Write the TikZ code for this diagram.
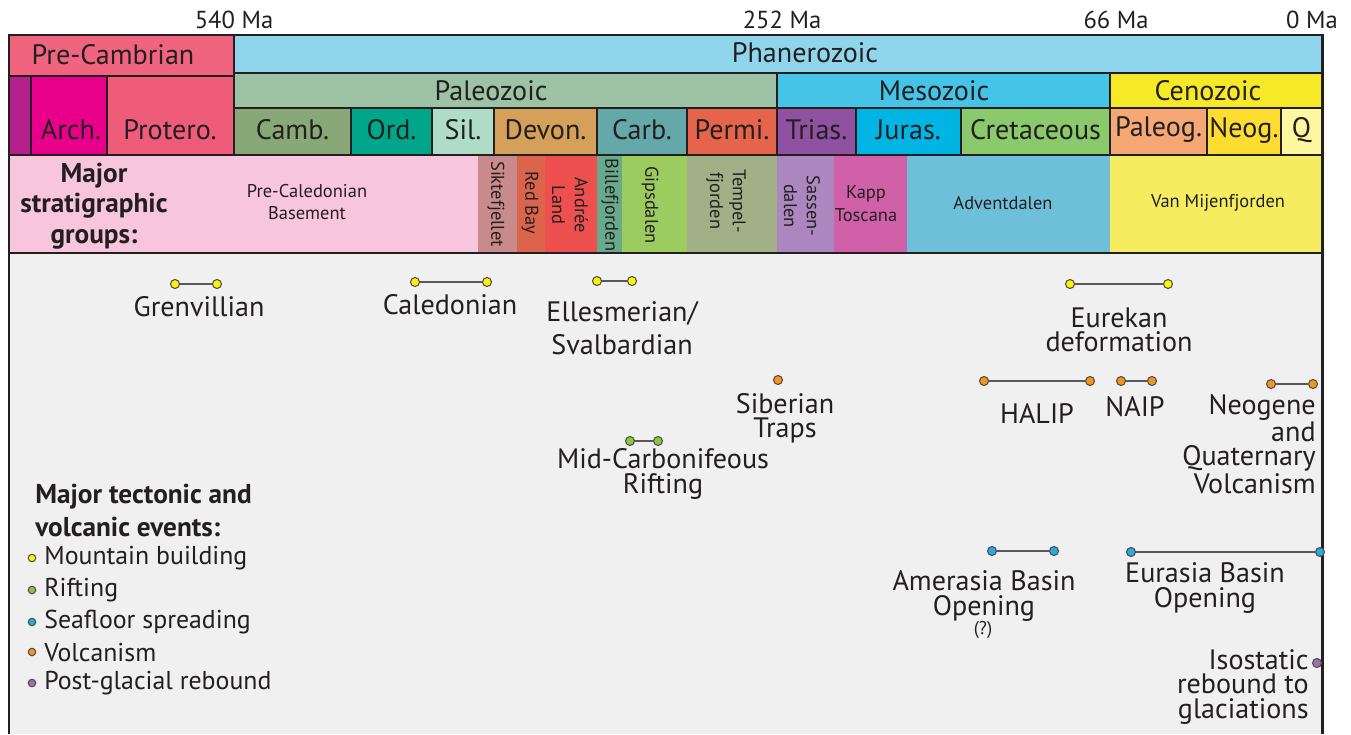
\documentclass[tikz,border=0pt]{standalone}
\usepackage{fontspec}
\setmainfont{PT Sans}
\usetikzlibrary{positioning}
\definecolor{ink}{RGB}{35,31,32}
\definecolor{panel}{RGB}{240,240,240}
\definecolor{precamb}{RGB}{240,100,128}
\definecolor{protero}{RGB}{238,92,122}
\definecolor{arch}{RGB}{232,0,138}
\definecolor{hadean}{RGB}{180,32,140}
\definecolor{phaner}{RGB}{143,214,236}
\definecolor{paleo}{RGB}{158,194,164}
\definecolor{meso}{RGB}{70,196,232}
\definecolor{ceno}{RGB}{246,234,40}
\definecolor{camb}{RGB}{137,168,119}
\definecolor{ord}{RGB}{0,166,137}
\definecolor{sil}{RGB}{176,221,200}
\definecolor{devon}{RGB}{212,160,90}
\definecolor{carb}{RGB}{100,168,170}
\definecolor{permi}{RGB}{230,100,75}
\definecolor{trias}{RGB}{142,82,160}
\definecolor{juras}{RGB}{0,180,228}
\definecolor{cret}{RGB}{138,201,108}
\definecolor{paleog}{RGB}{246,168,116}
\definecolor{neog}{RGB}{254,220,48}
\definecolor{quat}{RGB}{255,246,160}
\definecolor{basement}{RGB}{248,198,220}
\definecolor{sikte}{RGB}{200,138,138}
\definecolor{redbay}{RGB}{221,100,76}
\definecolor{andree}{RGB}{238,80,80}
\definecolor{bille}{RGB}{104,170,140}
\definecolor{gips}{RGB}{156,204,95}
\definecolor{tempel}{RGB}{162,176,136}
\definecolor{sassen}{RGB}{172,134,190}
\definecolor{kapp}{RGB}{208,96,168}
\definecolor{advent}{RGB}{110,192,218}
\definecolor{vanmij}{RGB}{246,236,96}
\definecolor{mtn}{RGB}{255,242,0}
\definecolor{rift}{RGB}{140,198,63}
\definecolor{sea}{RGB}{39,170,225}
\definecolor{volc}{RGB}{247,148,29}
\definecolor{post}{RGB}{155,115,176}
\tikzset{
  cell/.style={draw=ink,line width=1pt,fill=#1},
  frame/.style={draw=ink,line width=1.7pt},
  bar/.style={font=\fontsize{16}{18}\selectfont,text=ink,inner sep=0pt},
  age/.style={font=\fontsize{14}{16}\selectfont,text=ink,inner sep=0pt},
  grp/.style={font=\fontsize{10.5}{13}\selectfont,text=ink,align=center,inner sep=0pt},
  vgrp/.style={grp,rotate=-90},
  head/.style={font=\bfseries\fontsize{15.5}{17.5}\selectfont,text=ink,inner sep=0pt},
  evt/.style={font=\fontsize{16}{13.8}\selectfont,text=ink,align=center,inner sep=0pt},
  key/.style={font=\fontsize{14.7}{16}\selectfont,text=ink,inner sep=0pt,anchor=west},
  dot/.style={circle,draw=ink!80,line width=0.6pt,fill=#1,inner sep=0pt,minimum size=1.8mm},
  span/.style={draw=ink!75,line width=0.8pt},
}
\begin{document}
\begin{tikzpicture}[x=0.02cm,y=-0.02cm]
  \useasboundingbox (0,0) rectangle (1351,734);
  % ages
  \foreach \a/\x in {540/234,252/782,66/1116,0/1312}
    \node[age] (ma\a) at (\x,20) {\a~Ma};
  % events panel
  \fill[panel] (9,253) rectangle (1322,734);
  % eons and eras
  \draw[cell=precamb] (9,35) rectangle (234,76);
  \node[bar] (pcam) at (113,55) {Pre-Cambrian};
  \draw[cell=phaner] (234,35) rectangle (1322,73);
  \node[bar] (phan) at (805,53) {Phanerozoic};
  \foreach \a/\b/\t/\c/\x in {234/777/Paleozoic/paleo/491,777/1110/Mesozoic/meso/934,1110/1322/Cenozoic/ceno/1208}{
    \draw[cell=\c] (\a,73) rectangle (\b,108);
    \node[bar] (era\c) at (\x,91) {\t};
  }
  \draw[cell=hadean] (9,76) rectangle (31,155);
  \draw[cell=arch] (31,76) rectangle (107,155);
  \node[bar] (archt) at (71,130) {Arch.};
  \draw[cell=protero] (107,76) rectangle (234,155);
  \node[bar] (prot) at (170,130) {Protero.};
  % periods
  \foreach \a/\b/\t/\c [count=\i] in {234/351/Camb./camb,351/432/Ord./ord,432/494/Sil./sil,494/597/Devon./devon,597/687/Carb./carb,687/777/Permi./permi,777/856/Trias./trias,856/961/Juras./juras,961/1110/Cretaceous/cret,1110/1207/Paleog./paleog,1207/1281/Neog./neog,1281/1322/Q/quat}{
    \draw[cell=\c] (\a,108) rectangle (\b,155);
    \node[bar] (per\i) at ({(\a+\b)/2},130) {\t};
  }
  % stratigraphic groups
  \foreach \a/\b/\c in {9/478/basement,478/517/sikte,517/545/redbay,545/597/andree,597/622/bille,622/687/gips,687/777/tempel,777/834/sassen,834/907/kapp,907/1110/advent,1110/1322/vanmij}
    \fill[\c] (\a,155) rectangle (\b,253);
  \node[head,align=center] (grphead) at (94,206) {Major\\stratigraphic\\groups:};
  \node[grp] (gbase) at (307,202) {Pre-Caledonian\\Basement};
  \node[vgrp] (gsik) at (496,204) {Siktefjellet};
  \node[vgrp] (gred) at (530,203) {Red Bay};
  \node[vgrp] (gand) at (570,205) {Andrée\\Land};
  \node[vgrp] (gbil) at (610,205) {Billefjorden};
  \node[vgrp] (ggip) at (650,205) {Gipsdalen};
  \node[vgrp] (gtem) at (726,201) {Tempel-\\fjorden};
  \node[vgrp] (gsas) at (802,206) {Sassen-\\dalen};
  \node[grp] (gkap) at (866,204) {Kapp\\Toscana};
  \node[grp] (gadv) at (1003,203) {Adventdalen};
  \node[grp] (gvan) at (1218,203) {Van Mijenfjorden};
  % frame
  \draw[frame] (9,155) -- (1322,155);
  \draw[frame] (9,253) -- (1322,253);
  \draw[frame] (9,734) -- (9,35) -- (1322,35) -- (1322,734);
  % events
  \foreach \n/\a/\b/\y/\c in {gre/175/217/284/mtn,cal/415/487/282/mtn,ell/597/632/281/mtn,eur/1070/1168/284/mtn,mcr/630/658/441/rift,hal/984/1090/381/volc,nai/1121/1152/381/volc,nqv/1271/1313/384/volc,ame/992/1054/551/sea,eua/1131/1320/552/sea}{
    \node[dot=\c] (\n1) at (\a,\y) {};
    \node[dot=\c] (\n2) at (\b,\y) {};
    \draw[span] (\n1) -- (\n2);
  }
  \node[dot=volc] (sib1) at (778,380) {};
  \node[dot=post] (iso1) at (1317,663) {};
  \node[evt] (gre) at (199,307) {Grenvillian};
  \node[evt] (cal) at (450,305) {Caledonian};
  \node[evt] (ell) at (622,328) {Ellesmerian/\\[5pt]Svalbardian};
  \node[evt] (eur) at (1119,330) {Eurekan\\deformation};
  \node[evt] (mcr) at (663,474) {Mid-Carbonifeous\\Rifting};
  \node[evt] (sib) at (785,418) {Siberian\\Traps};
  \node[evt] (hal) at (1037,413) {HALIP};
  \node[evt] (nai) at (1135,407) {NAIP};
  \node[evt,align=right,anchor=east] (nqv) at (1316,444) {Neogene\\and\\Quaternary\\Volcanism};
  \node[evt] (ame) at (984,596) {Amerasia Basin\\Opening};
  \node[evt,font=\fontsize{10.5}{12}\selectfont] (ameq) at (983,630) {(?)};
  \node[evt] (eua) at (1205,588) {Eurasia Basin\\Opening};
  \node[evt,align=right,anchor=east] (iso) at (1309,687) {Isostatic\\rebound to\\glaciations};
  % legend
  \node[head,anchor=west] (keyh1) at (35,497) {Major tectonic and};
  \node[head,anchor=west] (keyh2) at (35,527) {volcanic events:};
  \foreach \t/\c/\y [count=\i] in {Mountain building/mtn/558,Rifting/rift/590,Seafloor spreading/sea/622,Volcanism/volc/652,Post-glacial rebound/post/683}{
    \node[dot=\c,minimum size=1.5mm] (kd\i) at (32,\y) {};
    \node[key] (kt\i) at (44,\y) {\t};
  }
\end{tikzpicture}
\end{document}
